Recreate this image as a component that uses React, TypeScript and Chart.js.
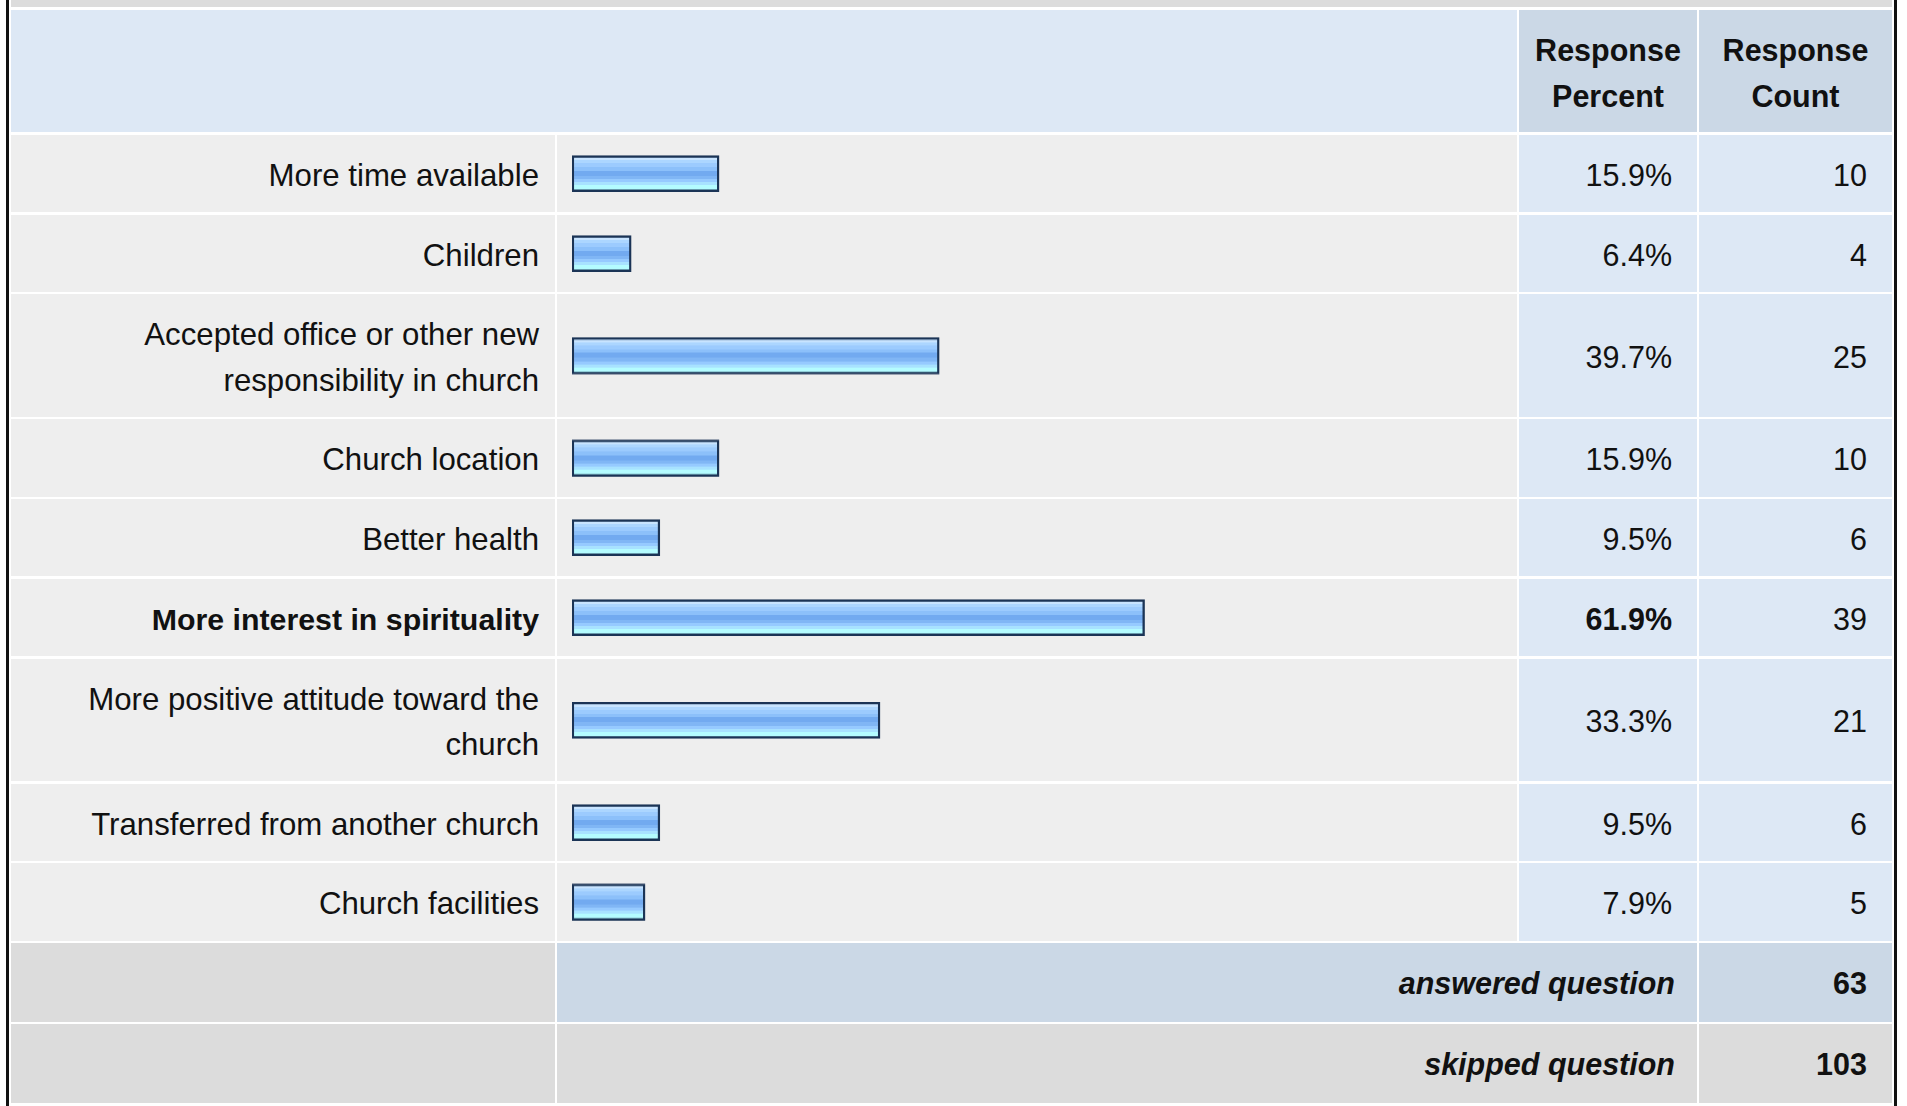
import React, { useEffect, useRef } from "react";
import { Chart, BarController, BarElement, CategoryScale, LinearScale } from "chart.js";

Chart.register(BarController, BarElement, CategoryScale, LinearScale);

// ---- data ----
const categories: string[] = [
  "More time available",
  "Children",
  "Accepted office or other new responsibility in church",
  "Church location",
  "Better health",
  "More interest in spirituality",
  "More positive attitude toward the church",
  "Transferred from another church",
  "Church facilities",
];
const responsePercent: number[] = [15.9, 6.4, 39.7, 15.9, 9.5, 61.9, 33.3, 9.5, 7.9];
const responseCount: number[] = [10, 4, 25, 10, 6, 39, 21, 6, 5];
const headerLabels: string[] = ["Response Percent", "Response Count"];
const footerLabels: string[] = ["answered question", "skipped question"];
const footerValues: number[] = [63, 103];

// ---- style ----
const FONT = '"Liberation Sans", Arial, Helvetica, sans-serif';
const FS = 30.5;
const FS_LABEL = 31.2;
const FS_LABEL_BOLD = 30.3;
const LH = 45.3;
const C_HEAD = "#dde8f5";
const C_SLATE = "#cbd8e6";
const C_ROW = "#eeeeee";
const C_GRAY = "#dcdcdc";
const C_TEXT = "#111111";

const maxIdx = responsePercent.indexOf(Math.max(...responsePercent));

const BAR_THICK = 36;
const BORDER_W = 2.4;

function BarCell({ value }: { value: number }) {
  const ref = useRef<HTMLCanvasElement | null>(null);
  useEffect(() => {
    if (!ref.current) return;
    const chart = new Chart(ref.current, {
      type: "bar",
      data: {
        labels: [""],
        datasets: [
          {
            data: [value],
            barThickness: BAR_THICK,
            borderWidth: BORDER_W,
            borderColor: "#1b3456",
            borderSkipped: false,
            backgroundColor: (c: any) => {
              const ch = c.chart;
              const area = ch.chartArea;
              if (!area) return "#90c4ff";
              const cy = (area.top + area.bottom) / 2;
              const top = cy - BAR_THICK / 2 + BORDER_W;
              const bot = cy + BAR_THICK / 2 - BORDER_W;
              const g = ch.ctx.createLinearGradient(0, top, 0, bot);
              const bands: [number, number, string][] = [
                [0, 0.075, "#c8e4ff"],
                [0.075, 0.17, "#acd6ff"],
                [0.17, 0.3, "#9ccbfe"],
                [0.3, 0.41, "#8cc0fa"],
                [0.41, 0.56, "#72aaf0"],
                [0.56, 0.67, "#80b6f5"],
                [0.67, 0.77, "#96caff"],
                [0.77, 0.86, "#a8e2ff"],
                [0.86, 1, "#b4fcff"],
              ];
              bands.forEach(([a, b, col]) => {
                g.addColorStop(a, col);
                g.addColorStop(b, col);
              });
              return g;
            },
          } as any,
        ],
      },
      options: {
        indexAxis: "y",
        responsive: true,
        maintainAspectRatio: false,
        animation: false,
        events: [],
        layout: { padding: { left: 15, right: 20, top: 0, bottom: 0 } },
        scales: {
          x: { type: "linear", min: 0, max: 100, display: false },
          y: { type: "category", display: false },
        },
        plugins: { legend: { display: false }, tooltip: { enabled: false } },
      } as any,
    });
    return () => chart.destroy();
  }, [value]);
  return (
    <div style={{ position: "absolute", left: 0, top: 0, right: 0, bottom: 0 }}>
      <canvas ref={ref} />
    </div>
  );
}

const cellText: React.CSSProperties = {
  fontFamily: FONT,
  fontSize: FS,
  lineHeight: `${LH}px`,
  color: C_TEXT,
  padding: "18px 0 14px 0",
  boxSizing: "border-box",
  display: "flex",
  alignItems: "center",
  justifyContent: "flex-end",
  textAlign: "right",
};

export default function App() {
  const rows: React.ReactNode[] = [];
  categories.forEach((cat, i) => {
    const bold = i === maxIdx;
    rows.push(
      <div
        key={`l${i}`}
        style={{
          ...cellText,
          background: C_ROW,
          paddingLeft: 28,
          paddingRight: 16,
          fontSize: bold ? FS_LABEL_BOLD : FS_LABEL,
          fontWeight: bold ? 700 : 400,
        }}
      >
        <span>{cat}</span>
      </div>
    );
    rows.push(
      <div key={`b${i}`} style={{ background: C_ROW, position: "relative" }}>
        <BarCell value={responsePercent[i]} />
      </div>
    );
    rows.push(
      <div
        key={`p${i}`}
        style={{
          ...cellText,
          background: C_HEAD,
          paddingRight: 25,
          fontWeight: bold ? 700 : 400,
        }}
      >
        {responsePercent[i].toFixed(1)}%
      </div>
    );
    rows.push(
      <div key={`c${i}`} style={{ ...cellText, background: C_HEAD, paddingRight: 25 }}>
        {responseCount[i]}
      </div>
    );
  });

  const footer: React.ReactNode[] = [];
  footerLabels.forEach((lab, i) => {
    const bg = i === 0 ? C_SLATE : C_GRAY;
    footer.push(<div key={`fl${i}`} style={{ background: C_GRAY }} />);
    footer.push(
      <div
        key={`fm${i}`}
        style={{
          ...cellText,
          padding: "18px 22px 15.5px 0",
          gridColumn: "2 / span 2",
          background: bg,
          fontWeight: 700,
          fontStyle: "italic",
        }}
      >
        {lab}
      </div>
    );
    footer.push(
      <div
        key={`fv${i}`}
        style={{
          ...cellText,
          padding: "18px 25px 15.5px 0",
          background: bg,
          fontWeight: 700,
        }}
      >
        {footerValues[i]}
      </div>
    );
  });

  return (
    <div
      style={{
        position: "absolute",
        left: 0,
        top: 0,
        width: 1907,
        height: 1106,
        overflow: "hidden",
        background: "#ffffff",
      }}
    >
      <div style={{ position: "absolute", left: 6, top: 0, width: 3, height: 1106, background: "#111" }} />
      <div style={{ position: "absolute", left: 1894, top: 0, width: 3, height: 1106, background: "#111" }} />
      <div
        style={{
          position: "absolute",
          left: 11,
          top: 0,
          display: "grid",
          gridTemplateColumns: "544px 960px 178px 193px",
          columnGap: 2,
          rowGap: 2.45,
        }}
      >
        <div style={{ gridColumn: "1 / span 4", height: 7.45, background: C_GRAY }} />
        <div style={{ gridColumn: "1 / span 2", background: C_HEAD }} />
        {headerLabels.map((h, i) => (
          <div
            key={`h${i}`}
            style={{
              ...cellText,
              background: C_SLATE,
              justifyContent: "center",
              textAlign: "center",
              fontWeight: 700,
              padding: "18.5px 6px 13.5px 6px",
            }}
          >
            <div>
              {h.split(" ").map((w, k) => (
                <div key={k}>{w}</div>
              ))}
            </div>
          </div>
        ))}
        {rows}
        {footer}
      </div>
    </div>
  );
}
